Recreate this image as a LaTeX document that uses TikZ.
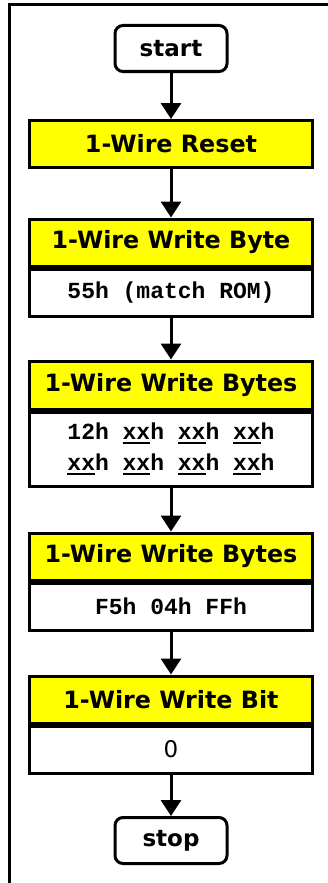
\documentclass[tikz,border=0pt]{standalone}
\usepackage{fontspec}
\setmainfont{DejaVu Sans}
\newfontfamily\codefont{Liberation Mono}
\usetikzlibrary{arrows.meta}
\definecolor{hdryellow}{RGB}{255,255,0}

% underlined "xx" placeholder with a heavy rule
\newcommand{\ulxx}{\setbox0\hbox{xx}\rlap{\rule[-4pt]{\wd0}{2pt}}\box0}

\begin{document}
\begin{tikzpicture}[x=1pt,y=-1pt,line width=3pt,
  terminal/.style={draw, rounded corners=8pt, minimum width=112pt, minimum height=46pt,
    inner sep=0pt, font=\fontsize{23}{28}\selectfont\bfseries},
  header/.style={draw, fill=hdryellow, minimum width=283pt, minimum height=47pt,
    inner sep=0pt, font=\fontsize{23.8}{28}\selectfont\bfseries},
  body/.style={draw, fill=white, minimum width=283pt, minimum height=47pt,
    inner sep=0pt, align=center, font=\codefont\bfseries\fontsize{23}{31}\selectfont},
  flow/.style={-{Triangle[width=20pt,length=16pt]}}]

\useasboundingbox (0,0) rectangle (328,883);
\clip (0,0) rectangle (328,883);

% outer frame (open to the right and bottom)
\draw (9.5,900) -- (9.5,4.5) -- (340,4.5);

\node[terminal] (start) at (171,48.5) {start};
\node[header] (reset) at (171,144) {1-Wire Reset};

\node[header, anchor=north] (wb) at (171,217.5) {1-Wire Write Byte};
\node[body, anchor=north] (wbv) at (wb.south) {55h (match ROM)};

\node[header, anchor=north, minimum height=48pt] (wbs1) at (171,359.5) {1-Wire Write Bytes};
\node[body, anchor=north, minimum height=74pt] (wbs1v) at (wbs1.south)
  {12h \ulxx{}h \ulxx{}h \ulxx{}h\\\ulxx{}h \ulxx{}h \ulxx{}h \ulxx{}h};

\node[header, anchor=north] (wbs2) at (171,531.5) {1-Wire Write Bytes};
\node[body, anchor=north] (wbs2v) at (wbs2.south) {F5h 04h FFh};

\node[header, anchor=north] (wbit) at (171,674.5) {1-Wire Write Bit};
\node[body, anchor=north, font=\fontsize{23}{28}\selectfont] (wbitv) at (wbit.south) {0};

\node[terminal] (stop) at (171,840.5) {stop};

\draw[flow] (start) -- (reset);
\draw[flow] (reset) -- (wb);
\draw[flow] (wbv) -- (wbs1);
\draw[flow] (wbs1v) -- (wbs2);
\draw[flow] (wbs2v) -- (wbit);
\draw[flow] (wbitv) -- (stop);
\end{tikzpicture}
\end{document}
